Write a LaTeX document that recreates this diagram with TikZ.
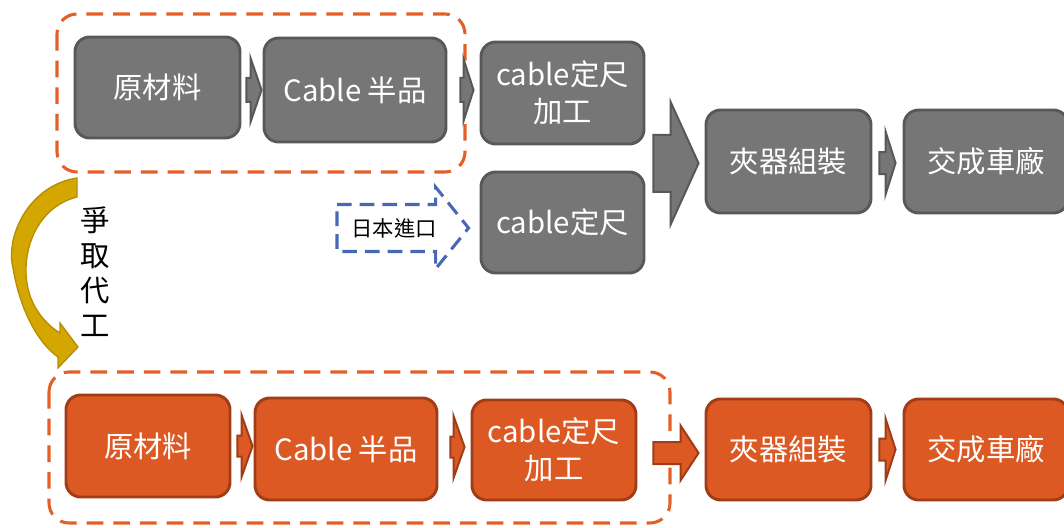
\documentclass[tikz,border=0pt]{standalone}
\usepackage{fontspec}
\newfontfamily\cjk{Noto Sans CJK TC}
\usetikzlibrary{calc}
\definecolor{gfill}{RGB}{118,118,118}
\definecolor{gdraw}{RGB}{88,88,88}
\definecolor{ofill}{RGB}{221,89,36}
\definecolor{odraw}{RGB}{160,60,22}
\definecolor{odash}{RGB}{228,95,40}
\definecolor{bdash}{RGB}{72,104,180}
\definecolor{gold}{RGB}{212,166,0}
\definecolor{golddraw}{RGB}{184,142,0}
% fat arrow: style, start point, tip point, half shaft, half head, head length (px)
\newcommand\fatarrow[6]{\draw[#1] let \p1=#2, \p2=#3 in
  (\x1,\y1+#4*0.75pt) -- (\x2-#6*0.75pt,\y1+#4*0.75pt) -- (\x2-#6*0.75pt,\y1+#5*0.75pt)
  -- (\x2,\y1) -- (\x2-#6*0.75pt,\y1-#5*0.75pt) -- (\x2-#6*0.75pt,\y1-#4*0.75pt)
  -- (\x1,\y1-#4*0.75pt) -- cycle;}
% box node: style, name, x1, y1, x2, y2, text (px, y down)
\newcommand\boxnode[7]{\node[#1, minimum width={(#5-#3)*0.75pt}, minimum height={(#6-#4)*0.75pt}]
  (#2) at ({(#3+#5)/2},{(#4+#6)/2}) {#7};}
\tikzset{
  box/.style={rounded corners=11pt, line width=2.2pt, text=white, align=center, inner sep=0pt,
    font=\cjk\fontsize{22}{28}\selectfont},
  gbox/.style={box, fill=gfill, draw=gdraw},
  obox/.style={box, fill=ofill, draw=odraw},
  garrow/.style={fill=gfill, draw=gdraw, line width=1.5pt},
  oarrow/.style={fill=ofill, draw=odraw, line width=1.5pt},
  barrow/.style={draw=bdash, line width=2.3pt, dash pattern=on 11pt off 6pt},
  group/.style={draw=odash, line width=2.3pt, dash pattern=on 12.5pt off 7.5pt, rounded corners=15pt},
  lbl/.style={text=black, inner sep=0pt, align=center}
}
\begin{document}
\begin{tikzpicture}[x=0.75pt,y=-0.75pt]
\useasboundingbox (0,0) rectangle (1064,528);
\clip (0,0) rectangle (1064,528);
% group frames
\draw[group] (57,14) rectangle (465,172);
\draw[group] (49,372) rectangle (670,523);
% top row
\boxnode{gbox}{a1}{75}{37}{240}{138}{原材料}
\boxnode{gbox}{a2}{264}{38}{446}{142}{Cable 半品}
\boxnode{gbox}{a3}{481}{42}{644}{144}{cable定尺\\加工}
\boxnode{gbox}{b3}{481}{172}{644}{273}{cable定尺}
\boxnode{gbox}{c1}{706}{110}{871}{213}{夾器組裝}
\boxnode{gbox}{c2}{904}{110}{1068}{213}{交成車廠}
% bottom row
\boxnode{obox}{d1}{66}{395}{230}{497}{原材料}
\boxnode{obox}{d2}{255}{398}{437}{500}{Cable 半品}
\boxnode{obox}{d3}{472}{400}{636}{500}{cable定尺\\加工}
\boxnode{obox}{e1}{706}{399}{871}{500}{夾器組裝}
\boxnode{obox}{e2}{904}{399}{1068}{500}{交成車廠}
% top arrows
\fatarrow{garrow}{($(a1.east)+(5,2.5)$)}{($(a2.west)+(-1,0)$)}{12}{32}{11}
\fatarrow{garrow}{($(a2.east)+(13,0)$)}{($(a3.west)+(-6,0)$)}{12}{31}{10}
\fatarrow{garrow}{($(a3.east)!0.5!(b3.east)+(8,5.5)$)}{($(c1.west)+(-6,0)$)}{28.5}{61.5}{28}
\fatarrow{garrow}{($(c1.east)+(7,1.5)$)}{($(c2.west)+(-7,0)$)}{11}{31.5}{10}
% import arrow
\coordinate (jpstart) at (337,228);
\fatarrow{barrow}{(jpstart)}{($(b3.west)+(-11,0)$)}{23.5}{41}{33}
\node[lbl, font=\cjk\fontsize{16}{19}\selectfont] (jp) at (394,228) {日本進口};
% bottom arrows
\fatarrow{oarrow}{($(d1.east)+(6,0)$)}{($(d2.west)+(-1,0)$)}{10.5}{31}{11}
\fatarrow{oarrow}{($(d2.east)+(12,-2)$)}{($(d3.west)+(-6,0)$)}{10.5}{31}{11}
\fatarrow{oarrow}{($(d3.east)+(16,3)$)}{($(e1.west)+(-6,0)$)}{11}{27.5}{18}
\fatarrow{oarrow}{($(e1.east)+(7,0)$)}{($(e2.west)+(-7,0)$)}{11}{31}{10}
% curved arrow
\filldraw[fill=gold, draw=golddraw, line width=1pt, line join=miter]
  (77,178) .. controls (30,185) and (5,235) .. (13,268)
  .. controls (20,310) and (38,343) .. (58,357)
  -- (58,368) -- (78,347) -- (60,323) -- (60,333)
  .. controls (42,322) and (25,300) .. (26,268)
  .. controls (27,235) and (45,205) .. (77,197) -- cycle;
\node[lbl, font=\cjk\fontsize{22}{26.25}\selectfont] (fight) at (95,272) {爭\\取\\代\\工};
\end{tikzpicture}
\end{document}
